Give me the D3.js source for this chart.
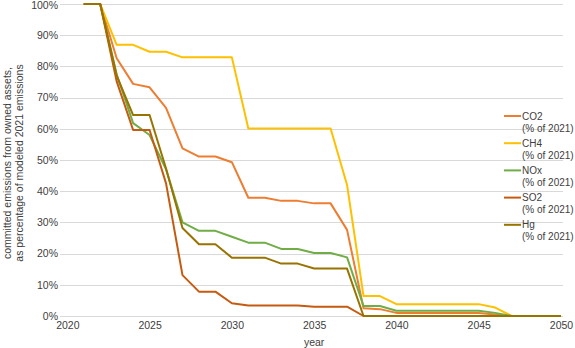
<!DOCTYPE html>
<html>
<head>
<meta charset="utf-8">
<title>Committed emissions</title>
<style>
body {margin: 0; background: #fff;}
text {font-family: "Liberation Sans", Arial, sans-serif; fill: #404040;}
.grid line {stroke: #d9d9d9; stroke-width: 1;}
.series {fill: none; stroke-width: 2; stroke-linejoin: round;}
</style>
</head>
<body>
<div id="chart"></div>
<script src="https://cdn.jsdelivr.net/npm/d3@7"></script>
<script>
var years = d3.range(2021, 2051);
var co2 = [100,100,82.6,74.4,73.3,66.7,53.7,51.1,51.1,49.3,37.9,37.9,36.9,36.9,36.1,36.1,27.6,2.5,2.2,1.0,1.0,1.0,1.0,1.0,1.0,0.5,0,0,0,0];
var ch4 = [100,100,86.9,86.9,84.7,84.7,82.9,82.9,82.9,82.9,60.1,60.1,60.1,60.1,60.1,60.1,42,6.4,6.4,3.8,3.8,3.8,3.8,3.8,3.8,2.7,0,0,0,0];
var nox = [100,100,77.5,61.8,58,47,30,27.3,27.3,25.4,23.5,23.5,21.5,21.5,20.2,20.2,18.8,3.2,3.2,1.7,1.7,1.7,1.7,1.7,1.7,1.0,0,0,0,0];
var so2 = [100,100,75.2,59.6,59.6,42.5,13.1,7.8,7.8,4.1,3.4,3.4,3.4,3.4,3.0,3.0,3.0,0,0,0,0,0,0,0,0,0,0,0,0,0];
var hg  = [100,100,77,64.4,64.4,47.3,28.2,23,23,18.7,18.7,18.7,16.8,16.8,15.2,15.2,15.2,0,0,0,0,0,0,0,0,0,0,0,0,0];
var seriesNames = ['CO2', 'CH4', 'NOx', 'SO2', 'Hg'];
var seriesColors = ['#ED7D31', '#FFC000', '#70AD47', '#C55A11', '#997300'];
var xTicks = [2020, 2025, 2030, 2035, 2040, 2045, 2050];
var yTicks = [0, 10, 20, 30, 40, 50, 60, 70, 80, 90, 100];

(function(d3) {
	var width = 575;
	var height = 348;
	var seriesData = [co2, ch4, nox, so2, hg];

	var x = d3.scaleLinear().domain([2020, 2050]).range([67.3, 561]);
	var y = d3.scaleLinear().domain([0, 100]).range([316, 4]);

	var svg = d3.select('#chart')
		.append('svg')
		.attr('width', width)
		.attr('height', height);

	// horizontal gridlines
	svg.append('g')
		.attr('class', 'grid')
		.selectAll('line')
		.data(yTicks)
		.enter()
		.append('line')
		.attr('x1', 60)
		.attr('x2', 563)
		.attr('y1', function(d) { return Math.round(y(d)) + 0.5; })
		.attr('y2', function(d) { return Math.round(y(d)) + 0.5; });

	var yAxis = svg.append('g')
		.attr('transform', 'translate(58,0)')
		.call(d3.axisLeft(y).tickValues(yTicks).tickSize(0).tickPadding(0)
			.tickFormat(function(d) { return d + '%'; }));
	yAxis.select('.domain').remove();
	yAxis.selectAll('text').style('font-size', '10.5px').attr('fill', '#404040')
		.attr('dy', function(d) { return d === 100 ? '0.42em' : '0.32em'; });

	var xAxis = svg.append('g')
		.attr('transform', 'translate(0,322)')
		.call(d3.axisBottom(x).tickValues(xTicks).tickSize(0).tickPadding(0)
			.tickFormat(d3.format('d')));
	xAxis.select('.domain').remove();
	xAxis.selectAll('text').style('font-size', '10.5px').attr('fill', '#404040');

	svg.append('text')
		.attr('x', x(2035))
		.attr('y', 346)
		.attr('text-anchor', 'middle')
		.style('font-size', '10.5px')
		.text('year');

	var yLabel = svg.append('text')
		.attr('transform', 'translate(10.5,163) rotate(-90)')
		.attr('text-anchor', 'middle')
		.style('font-size', '10.5px');
	yLabel.append('tspan').attr('x', 0).attr('dy', 0).text('committed emissions from owned assets,');
	yLabel.append('tspan').attr('x', 0).attr('dy', 12).text('as percentage of modeled 2021 emissions');

	var line = d3.line()
		.x(function(d, i) { return x(years[i]); })
		.y(function(d) { return y(d); });

	svg.selectAll('.series')
		.data(seriesData)
		.enter()
		.append('path')
		.attr('class', 'series')
		.attr('d', line)
		.attr('stroke', function(d, i) { return seriesColors[i]; });

	var legend = svg.selectAll('.legend')
		.data(seriesNames)
		.enter()
		.append('g')
		.attr('class', 'legend')
		.attr('transform', function(d, i) {
			return 'translate(504,' + (116 + i * 27.2) + ')';
		});

	legend.append('line')
		.attr('x1', 0)
		.attr('x2', 17)
		.attr('y1', 0)
		.attr('y2', 0)
		.attr('stroke-width', 2)
		.attr('stroke', function(d, i) { return seriesColors[i]; });

	var lt = legend.append('text')
		.attr('x', 18)
		.attr('y', 3.5)
		.style('font-size', '10px');
	lt.append('tspan').attr('x', 18).text(function(d) { return d; });
	lt.append('tspan').attr('x', 18).attr('dy', 12).text('(% of 2021)');
})(window.d3);
</script>
</body>
</html>
